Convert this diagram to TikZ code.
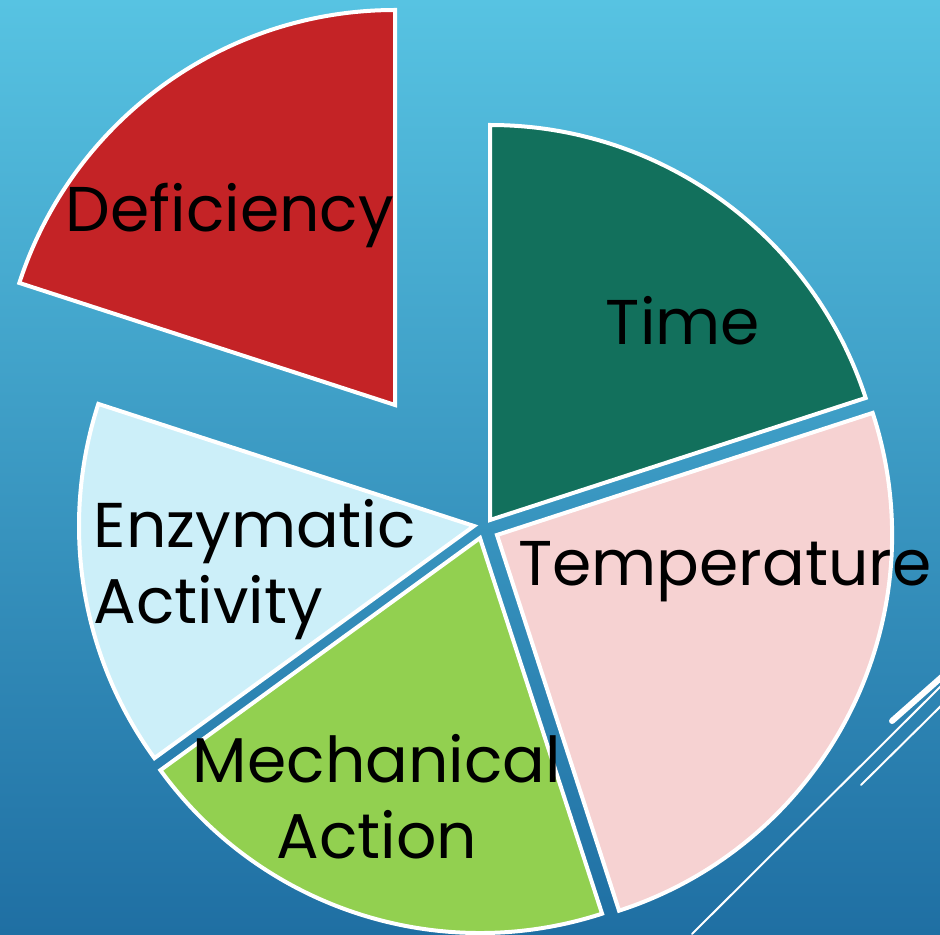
\documentclass[tikz,border=0pt]{standalone}
\usepackage{fontspec}
\setmainfont{Poppins}

\definecolor{bgtop}{HTML}{57C3E2}
\definecolor{bgbot}{HTML}{1F6FA3}
\definecolor{defred}{HTML}{C42326}
\definecolor{timegreen}{HTML}{12705C}
\definecolor{temppink}{HTML}{F6D2D2}
\definecolor{mechgreen}{HTML}{92D050}
\definecolor{enzblue}{HTML}{CCEFF9}

\begin{document}
\begin{tikzpicture}
  [x=0.1mm, y=0.1mm,
   slice/.style={draw=white, line width=0.4mm},
   deco/.style={draw=white, line cap=round},
   every node/.style={font=\fontsize{18}{21.5}\selectfont, inner sep=0pt, text=black}]

  \clip (0,0) rectangle (940,934);
  \shade[top color=bgtop, bottom color=bgbot] (0,0) rectangle (940,934);

  % apex of each slice
  \coordinate (def) at (395,529);
  \coordinate (tim) at (490,414);
  \coordinate (tem) at (497,399);
  \coordinate (mec) at (480,396);
  \coordinate (enz) at (474,408);

  \foreach \c/\s/\e/\col in {def/90/162/defred, tim/18/90/timegreen,
      tem/-72/18/temppink, mec/-144/-72/mechgreen, enz/162/216/enzblue}
    \filldraw[slice, fill=\col] (\c) -- ++(\s:395)
      arc[start angle=\s, end angle=\e, radius=39.5mm] -- cycle;

  \node[anchor=base] (deftxt) at (230,702) {Deficiency};
  \node[anchor=base] (timtxt) at (683,589) {Time};
  \node[anchor=base] (temtxt) at (725,349) {Temperature};
  \node[align=left, anchor=north west] (enztxt) at (93,435) {Enzymatic\\Activity};
  \node[align=center, anchor=north] (mectxt) at (377,200) {Mechanical\\Action};

  % corner lines
  \draw[deco, line width=0.6mm] (892,213) -- (970,282);
  \draw[deco, line width=0.2mm] (692,0) -- (950,257);
  \draw[deco, line width=0.2mm] (861,149) -- (950,237);
\end{tikzpicture}
\end{document}
